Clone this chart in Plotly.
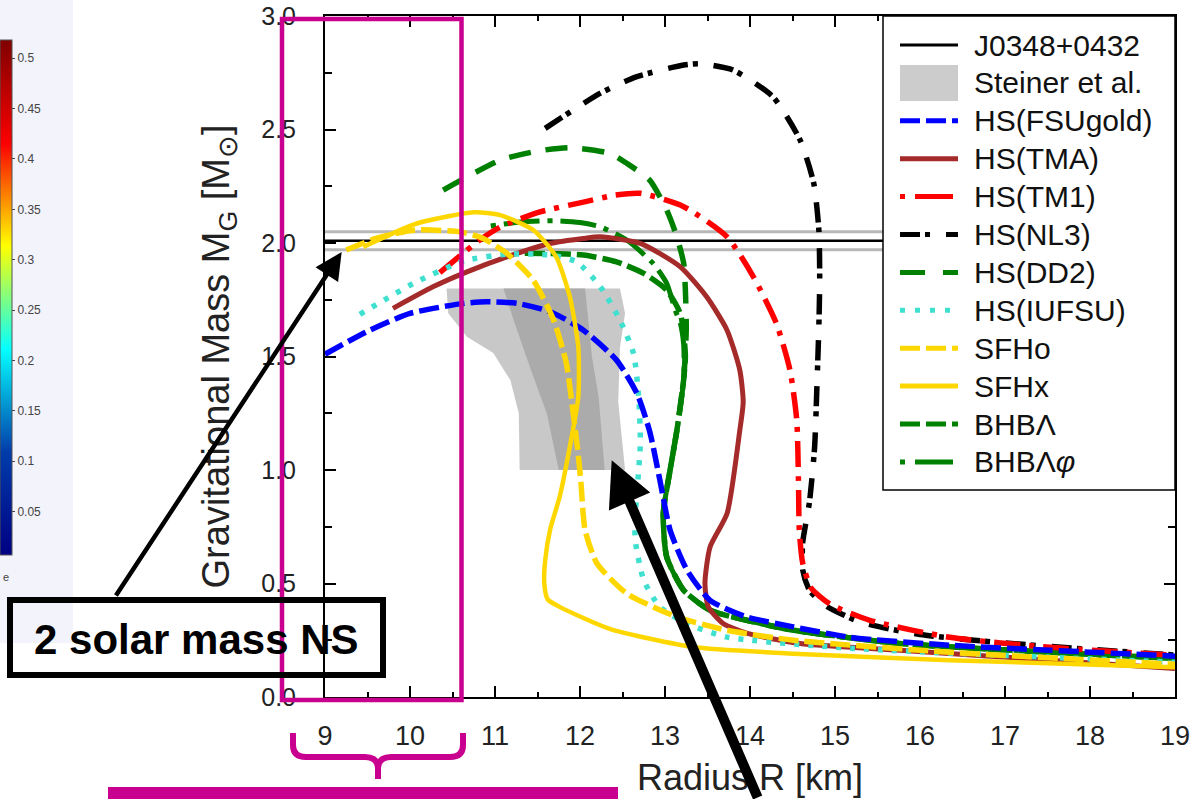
import plotly.graph_objects as go

# ---------------------------------------------------------------- data
R_RANGE = [9, 19]
M_RANGE = [0, 3]

# PSR J0348+0432 mass and 1-sigma uncertainty
J0348_MASS = 2.01
J0348_ERR = 0.04

# Steiner et al. mass-radius constraint (outer = 2 sigma, inner = 1 sigma)
STEINER_OUTER_R = [10.43, 12.47, 12.53, 12.47, 12.45, 12.53, 11.29, 11.28, 11.18, 10.98, 10.67, 10.45]
STEINER_OUTER_M = [1.80, 1.80, 1.69, 1.54, 1.30, 1.00, 1.00, 1.25, 1.396, 1.515, 1.587, 1.69]
STEINER_INNER_R = [11.10, 12.06, 12.14, 12.22, 12.29, 11.75, 11.61, 11.41, 11.22]
STEINER_INNER_M = [1.80, 1.80, 1.50, 1.32, 1.00, 1.00, 1.249, 1.454, 1.66]

FSUGOLD_R = [9.0, 9.49, 10.0, 10.63, 10.90, 11.26, 11.65, 12.04, 12.43, 12.67, 12.82, 12.94,
             13.06, 13.26, 13.53, 13.96, 14.51, 15.18, 16.35, 17.53, 19.0]
FSUGOLD_M = [1.51, 1.609, 1.69, 1.734, 1.741, 1.734, 1.697, 1.616, 1.484, 1.337, 1.17, 0.955,
             0.735, 0.558, 0.426, 0.353, 0.309, 0.263, 0.228, 0.206, 0.18]

TMA_R = [9.80, 10.27, 10.67, 11.14, 11.65, 12.04, 12.24, 12.71, 13.18, 13.49, 13.73, 13.88,
         13.92, 13.88, 13.73, 13.53, 13.47, 13.51, 13.68, 13.96, 14.59, 15.76, 17.53, 19.0]
TMA_M = [1.712, 1.807, 1.873, 1.939, 1.998, 2.020, 2.027, 1.998, 1.895, 1.763, 1.616, 1.44,
         1.30, 1.175, 0.808, 0.661, 0.50, 0.397, 0.325, 0.281, 0.236, 0.206, 0.162, 0.126]

TM1_R = [10.35, 10.82, 11.06, 11.53, 12.04, 12.40, 12.71, 13.22, 13.73, 14.04, 14.31, 14.47,
         14.55, 14.57, 14.58, 14.62, 14.72, 14.94, 15.41, 16.35, 17.53, 19.0]
TM1_M = [1.87, 2.013, 2.07, 2.137, 2.180, 2.21, 2.219, 2.16, 2.027, 1.851, 1.646, 1.44,
         1.22, 0.955, 0.735, 0.59, 0.48, 0.41, 0.338, 0.263, 0.219, 0.184]

NL3_R = [11.59, 12.24, 12.67, 13.22, 13.41, 13.80, 14.27, 14.59, 14.75, 14.81, 14.82, 14.81,
         14.79, 14.76, 14.70, 14.62, 14.62, 14.70, 14.90, 15.3, 16.0, 17.0, 18.0, 19.0]
NL3_M = [2.505, 2.66, 2.733, 2.784, 2.79, 2.762, 2.644, 2.453, 2.263, 2.057, 1.836, 1.631,
         1.40, 1.10, 0.86, 0.68, 0.56, 0.47, 0.40, 0.33, 0.275, 0.238, 0.21, 0.185]

DD2_R = [10.39, 11.06, 11.5, 11.88, 12.35, 12.55, 12.82, 13.02, 13.14, 13.22, 13.24, 13.25,
         13.22, 13.14, 13.06, 12.98, 13.02, 13.22, 13.53, 13.96, 14.51, 15.76, 17.53, 19.0]
DD2_M = [2.233, 2.365, 2.405, 2.42, 2.395, 2.351, 2.277, 2.145, 2.027, 1.91, 1.79, 1.62,
         1.40, 1.175, 1.0, 0.808, 0.617, 0.47, 0.382, 0.338, 0.294, 0.236, 0.197, 0.17]

IUFSU_R = [9.41, 10.04, 10.55, 10.67, 11.14, 11.65, 11.96, 12.24, 12.47, 12.63, 12.69, 12.71,
           12.67, 12.65, 12.65, 12.75, 12.94, 13.26, 13.73, 15.18, 16.94, 19.0]
IUFSU_M = [1.686, 1.822, 1.91, 1.925, 1.951, 1.947, 1.917, 1.807, 1.66, 1.513, 1.322, 1.12,
           0.90, 0.80, 0.69, 0.514, 0.397, 0.323, 0.264, 0.215, 0.184, 0.153]

SFHO_R = [9.25, 9.6, 10.06, 10.59, 10.86, 11.14, 11.45, 11.69, 11.84, 11.92, 11.97, 12.01,
          12.06, 12.2, 12.55, 13.14, 13.73, 14.51, 16.35, 19.0]
SFHO_M = [1.969, 2.02, 2.057, 2.049, 2.02, 1.954, 1.836, 1.66, 1.469, 1.249, 1.10, 0.95,
          0.735, 0.588, 0.456, 0.353, 0.294, 0.25, 0.197, 0.144]

SFHX_R = [9.45, 10.08, 10.75, 11.06, 11.45, 11.72, 11.88, 11.98, 11.98, 11.88, 11.76, 11.65,
          11.59, 11.58, 11.62, 11.76, 12.35, 13.33, 14.51, 16.35, 19.0]
SFHX_M = [1.983, 2.086, 2.135, 2.123, 2.057, 1.939, 1.763, 1.543, 1.322, 1.102, 0.881, 0.74,
          0.60, 0.50, 0.43, 0.397, 0.30, 0.22, 0.191, 0.162, 0.131]

# hyperonic branches (they merge into the DD2 curve at lower masses)
BHBL_UPPER_R = [11.35, 11.61, 12.04, 12.43, 12.75, 13.02, 13.18, 13.22, 13.24]
BHBL_UPPER_M = [1.955, 1.954, 1.947, 1.917, 1.866, 1.792, 1.69, 1.60, 1.50]
BHBLPHI_UPPER_R = [10.95, 11.3, 11.7, 12.0, 12.24, 12.55, 12.86, 13.02, 13.12, 13.18, 13.22]
BHBLPHI_UPPER_M = [2.075, 2.093, 2.098, 2.09, 2.071, 2.013, 1.91, 1.822, 1.704, 1.647, 1.55]
MERGE_MASS = 1.45

COLORBAR_TICKS = [0.05, 0.1, 0.15, 0.2, 0.25, 0.3, 0.35, 0.4, 0.45, 0.5]
COLORBAR_LABELS = ["0.05", "0.1", "0.15", "0.2", "0.25", "0.3", "0.35", "0.4", "0.45", "0.5"]
COLORBAR_MIN, COLORBAR_MAX = 0.007, 0.518

# ---------------------------------------------------------------- layout geometry
W, H = 1202, 799
ML, MR, MT, MB = 325, 27, 16, 102
PW = W - ML - MR
PH = H - MT - MB
FONT = "Liberation Sans, Arial, Helvetica, sans-serif"
MAGENTA = "#c9008f"


def fx(px):
    return (px - ML) / PW


def fy(py):
    return (H - MB - py) / PH


# shared low-mass (nucleonic) branch of the DD2-based models
low_r = [r for r, m in zip(DD2_R, DD2_M) if m <= MERGE_MASS]
low_m = [m for m in DD2_M if m <= MERGE_MASS]
BHBL_R = BHBL_UPPER_R + low_r
BHBL_M = BHBL_UPPER_M + low_m
BHBLPHI_R = BHBLPHI_UPPER_R + low_r
BHBLPHI_M = BHBLPHI_UPPER_M + low_m

# ---------------------------------------------------------------- styles
STYLES = [
    ("HS(DD2)", DD2_R, DD2_M, "#008000", 5.5, "22px,15px"),
    ("BHBΛφ", BHBLPHI_R, BHBLPHI_M, "#008000", 5.0, "5px,8px,36px,8px"),
    ("BHBΛ", BHBL_R, BHBL_M, "#008000", 5.5, "20px,6px"),
    ("HS(NL3)", NL3_R, NL3_M, "#000000", 5.5, "20px,5px,5px,16px"),
    ("HS(TM1)", TM1_R, TM1_M, "#ff0000", 5.5, "26px,9px,5px,9px"),
    ("HS(TMA)", TMA_R, TMA_M, "#a52a2a", 5.0, "solid"),
    ("HS(IUFSU)", IUFSU_R, IUFSU_M, "#40e0d0", 5.5, "5px,9px"),
    ("HS(FSUgold)", FSUGOLD_R, FSUGOLD_M, "#0000ff", 5.5, "20px,6px"),
    ("SFHx", SFHX_R, SFHX_M, "#ffd700", 4.5, "solid"),
    ("SFHo", SFHO_R, SFHO_M, "#ffd700", 5.5, "20px,6px"),
]

fig = go.Figure()

# Steiner et al. band
fig.add_trace(go.Scatter(x=STEINER_OUTER_R, y=STEINER_OUTER_M, fill="toself", mode="lines",
                         fillcolor="#c8c8c8", line=dict(width=0), hoverinfo="skip"))
fig.add_trace(go.Scatter(x=STEINER_INNER_R, y=STEINER_INNER_M, fill="toself", mode="lines",
                         fillcolor="#ababab", line=dict(width=0), hoverinfo="skip"))

# J0348+0432 measurement with its uncertainty edges
for m, col, wd in [(J0348_MASS + J0348_ERR, "#b8b8b8", 3), (J0348_MASS - J0348_ERR, "#b8b8b8", 3),
                   (J0348_MASS, "#000000", 2.5)]:
    fig.add_trace(go.Scatter(x=R_RANGE, y=[m, m], mode="lines", line=dict(color=col, width=wd),
                             hoverinfo="skip"))

for name, rr, mm, col, wd, dash in STYLES:
    fig.add_trace(go.Scatter(x=rr, y=mm, mode="lines", name=name,
                             line=dict(color=col, width=wd, dash=dash, shape="spline", smoothing=0.6)))

# colour bar strip at the left edge
fig.add_trace(go.Scatter(
    x=[None], y=[None], mode="markers",
    marker=dict(color=[COLORBAR_MIN], cmin=COLORBAR_MIN, cmax=COLORBAR_MAX, colorscale="Jet",
                showscale=True,
                colorbar=dict(x=fx(0), xanchor="left", xpad=0, ypad=0,
                              y=fy(297.5), yanchor="middle", len=515, lenmode="pixels",
                              thickness=12, thicknessmode="pixels", outlinewidth=1,
                              outlinecolor="#555", ticks="outside", ticklen=3, tickcolor="#444",
                              tickvals=COLORBAR_TICKS, ticktext=COLORBAR_LABELS,
                              tickfont=dict(size=12, color="#444", family=FONT))),
    hoverinfo="skip"))

fig.update_traces(showlegend=False)

# ---------------------------------------------------------------- overlays
shapes = []
annotations = []

# light background strip behind the colour bar
shapes.append(dict(type="rect", xref="paper", yref="paper", layer="below",
                   x0=fx(0), x1=fx(73), y0=fy(0), y1=fy(643),
                   fillcolor="#f3f3fb", line=dict(width=0)))

# legend box
LEG_X0, LEG_X1, LEG_Y0, LEG_Y1 = 883, 1175, 16, 490
shapes.append(dict(type="rect", xref="paper", yref="paper", layer="above",
                   x0=fx(LEG_X0), x1=fx(LEG_X1), y0=fy(LEG_Y0), y1=fy(LEG_Y1),
                   fillcolor="white", line=dict(color="black", width=1.5)))

LEGEND = [
    ("J0348+0432", "line", "#000000", "solid", 3),
    ("Steiner et al.", "box", "#cccccc", None, 0),
    ("HS(FSUgold)", "line", "#0000ff", "20px,6px", 5),
    ("HS(TMA)", "line", "#a52a2a", "solid", 5),
    ("HS(TM1)", "line", "#ff0000", "5px,10px,38px,8px", 5),
    ("HS(NL3)", "line", "#000000", "20px,5px,5px,16px", 5),
    ("HS(DD2)", "line", "#008000", "25px,18px", 5),
    ("HS(IUFSU)", "line", "#40e0d0", "5px,10px", 5),
    ("SFHo", "line", "#ffd700", "20px,6px", 5),
    ("SFHx", "line", "#ffd700", "solid", 5),
    ("BHBΛ", "line", "#008000", "20px,6px", 5),
    ("BHBΛ<i>φ</i>", "line", "#008000", "5px,10px,38px,8px", 5),
]
for i, (label, kind, col, dash, wd) in enumerate(LEGEND):
    yc = 45 + i * 37.9
    if kind == "box":
        shapes.append(dict(type="rect", xref="paper", yref="paper", layer="above",
                           x0=fx(900), x1=fx(958), y0=fy(yc - 18), y1=fy(yc + 18),
                           fillcolor=col, line=dict(width=0)))
    else:
        shapes.append(dict(type="line", xref="paper", yref="paper", layer="above",
                           x0=fx(900), x1=fx(958), y0=fy(yc), y1=fy(yc),
                           line=dict(color=col, width=wd, dash=dash)))
    annotations.append(dict(xref="paper", yref="paper", x=fx(972), y=fy(yc), xanchor="left",
                            yanchor="middle", text=label, showarrow=False,
                            font=dict(size=30, color="#111", family=FONT)))

# magenta highlight frame, brace and bar
shapes.append(dict(type="rect", xref="paper", yref="paper", layer="above",
                   x0=fx(282), x1=fx(461.5), y0=fy(19), y1=fy(700),
                   line=dict(color=MAGENTA, width=4.5)))


def pth(points):
    out = []
    for cmd, coords in points:
        pts = " ".join(f"{fx(a):.5f},{fy(b):.5f}" for a, b in coords)
        out.append(f"{cmd}{pts}")
    return " ".join(out)


brace = pth([("M", [(293, 733)]), ("L", [(293, 745)]), ("Q", [(293, 757), (306, 757)]),
             ("L", [(365, 757)]), ("Q", [(378, 757), (378, 769)]), ("L", [(378, 779)]),
             ("M", [(378, 769)]), ("Q", [(378, 757), (391, 757)]), ("L", [(450, 757)]),
             ("Q", [(463, 757), (463, 745)]), ("L", [(463, 733)])])
shapes.append(dict(type="path", xref="paper", yref="paper", layer="above", path=brace,
                   line=dict(color=MAGENTA, width=6)))
shapes.append(dict(type="rect", xref="paper", yref="paper", layer="above",
                   x0=fx(108), x1=fx(618), y0=fy(787), y1=fy(812),
                   fillcolor=MAGENTA, line=dict(width=0)))

# "2 solar mass NS" call-out
shapes.append(dict(type="rect", xref="paper", yref="paper", layer="above",
                   x0=fx(10), x1=fx(383), y0=fy(600), y1=fy(675),
                   line=dict(color="black", width=6)))
annotations.append(dict(xref="paper", yref="paper", x=fx(196), y=fy(639), text="<b>2 solar mass NS</b>",
                        showarrow=False, xanchor="center", yanchor="middle",
                        font=dict(size=42, color="black", family=FONT)))
annotations.append(dict(xref="x", yref="y", x=9.196, y=1.96, ax=-226.7, ay=345, text="",
                        showarrow=True, arrowhead=2, arrowsize=1.2, arrowwidth=4.5,
                        arrowcolor="black", standoff=0))
annotations.append(dict(xref="x", yref="y", x=12.373, y=1.043, ax=146.6, ay=355, text="",
                        showarrow=True, arrowhead=2, arrowsize=0.9, arrowwidth=10,
                        arrowcolor="black", standoff=0))
annotations.append(dict(xref="paper", yref="paper", x=fx(1), y=fy(577), text="e", showarrow=False,
                        xanchor="left", yanchor="middle", font=dict(size=11, color="#444", family=FONT)))

axis_common = dict(showline=True, linecolor="black", linewidth=2, mirror="allticks",
                   ticks="inside", ticklen=11, tickwidth=1.5, tickcolor="black",
                   showgrid=False, zeroline=False)

fig.update_layout(
    width=W, height=H, autosize=False,
    margin=dict(l=ML, r=MR, t=MT, b=MB, pad=0, autoexpand=False),
    paper_bgcolor="white", plot_bgcolor="white",
    font=dict(family=FONT, color="#222"),
    xaxis=dict(range=R_RANGE, dtick=1, tick0=9, **axis_common,
               minor=dict(dtick=0.5, ticklen=5, ticks="inside", tickcolor="black", tickwidth=1.5),
               tickfont=dict(size=27, family=FONT, color="#222"), ticklabelstandoff=14,
               title=dict(text="Radius R [km]", font=dict(size=36, family=FONT, color="#222"),
                          standoff=14)),
    yaxis=dict(range=M_RANGE, dtick=0.5, tick0=0, tickformat=".1f", **axis_common,
               minor=dict(dtick=0.25, ticklen=7, ticks="inside", tickcolor="black", tickwidth=1.5),
               tickfont=dict(size=25, family=FONT, color="#222"), ticklabelstandoff=22,
               title=dict(text="Gravitational Mass M<sub>G</sub> [M<sub>⊙</sub>]",
                          font=dict(size=38, family=FONT, color="#222"), standoff=20)),
    shapes=shapes,
    annotations=annotations,
    showlegend=False,
)

fig.write_html("out.html")
